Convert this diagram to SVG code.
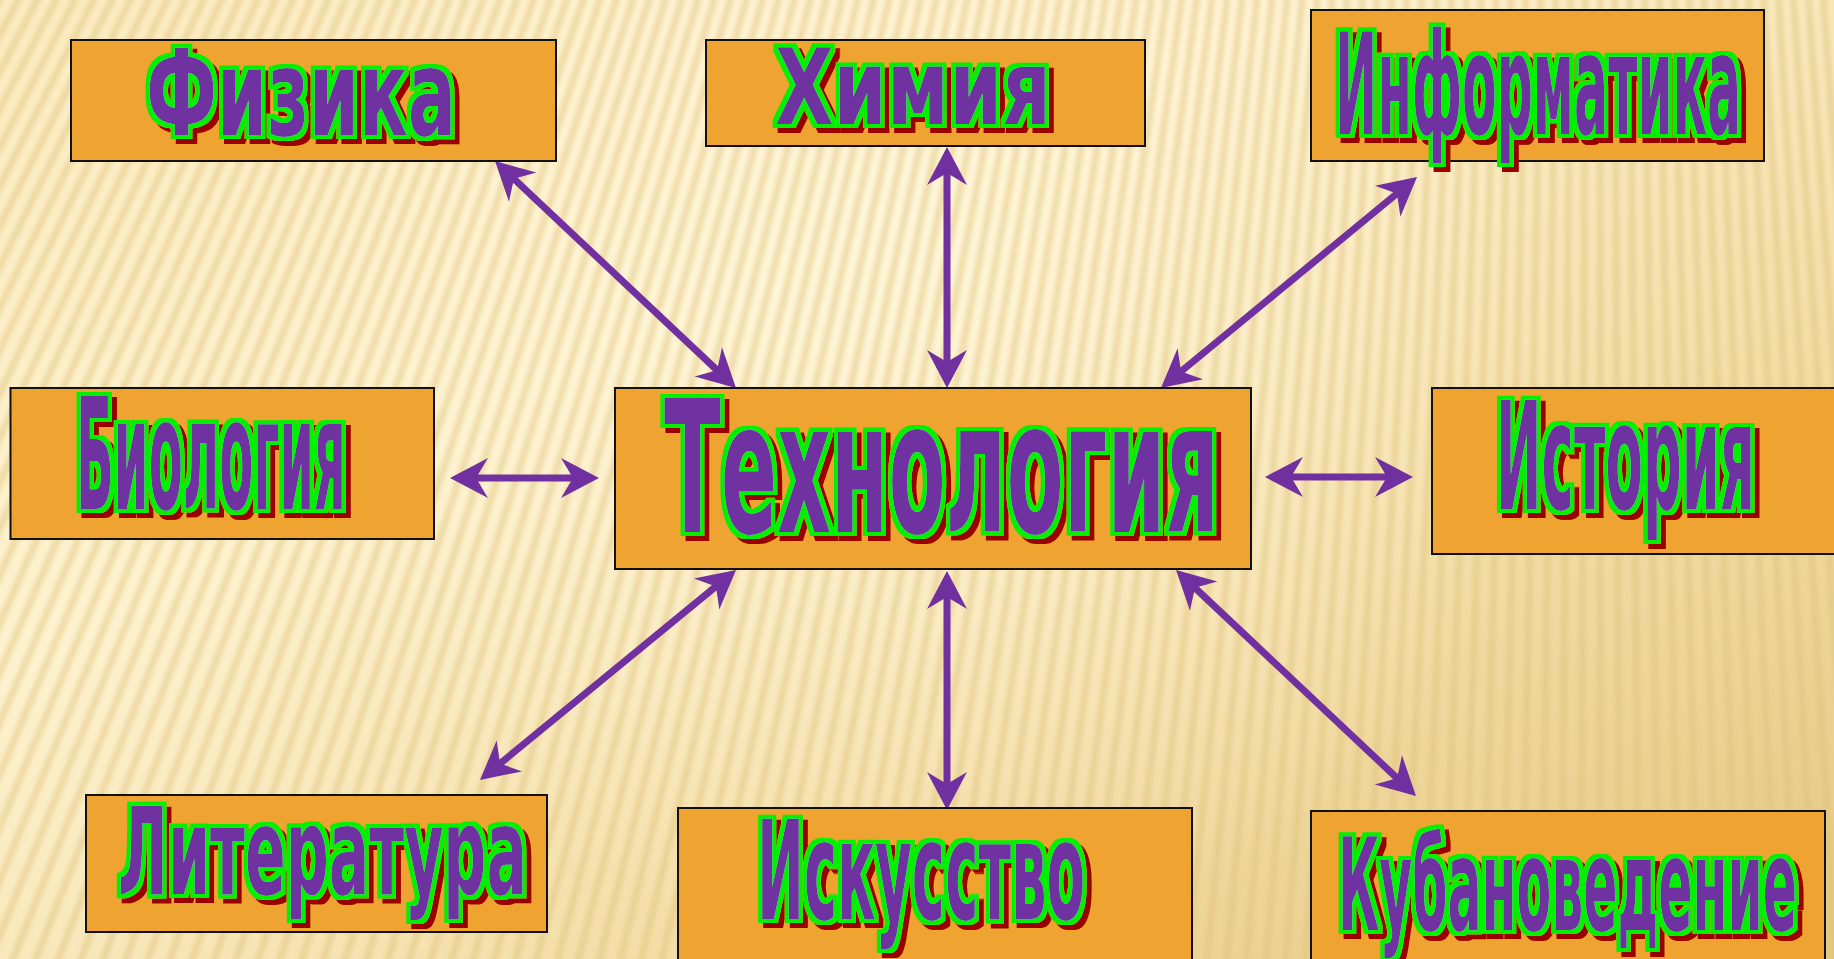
<svg xmlns="http://www.w3.org/2000/svg" width="1834" height="959" viewBox="0 0 1834 959">
<defs>
<style>
.box{fill:#EFA330;stroke:#111;stroke-width:2}
.lbl{font-family:"DejaVu Sans","Liberation Sans",sans-serif;font-weight:bold;fill:#7030A0}
.conn{stroke:#7030A0;stroke-width:7;fill:none;marker-start:url(#ah);marker-end:url(#ah)}
</style>
<marker id="ah" viewBox="-30 -22 42 44" refX="0" refY="0" markerWidth="42" markerHeight="44" markerUnits="userSpaceOnUse" orient="auto-start-reverse">
<path d="M10,0 L-28,-20 L-16,0 L-28,20 Z" fill="#7030A0"/>
</marker>
<filter id="wa" x="-6%" y="-15%" width="115%" height="135%">
<feMorphology in="SourceAlpha" operator="dilate" radius="4" result="d"/>
<feFlood flood-color="#00F000" result="g"/>
<feComposite in="g" in2="d" operator="in" result="outline"/>
<feOffset in="d" dx="5" dy="5" result="od"/>
<feFlood flood-color="#990000"/>
<feComposite in2="od" operator="in" result="shadow"/>
<feMerge><feMergeNode in="shadow"/><feMergeNode in="outline"/><feMergeNode in="SourceGraphic"/></feMerge>
</filter>
<linearGradient id="bg" x1="0" y1="0" x2="1" y2="1">
<stop offset="0" stop-color="#FBEBC0"/>
<stop offset="0.35" stop-color="#FDF2CF"/>
<stop offset="0.65" stop-color="#F4DFAA"/>
<stop offset="1" stop-color="#E4C883"/>
</linearGradient>
<radialGradient id="hl" cx="900" cy="250" r="700" gradientUnits="userSpaceOnUse">
<stop offset="0" stop-color="#FFF7DC" stop-opacity="0.8"/>
<stop offset="1" stop-color="#FFF7DC" stop-opacity="0"/>
</radialGradient>
<filter id="soft" filterUnits="userSpaceOnUse" x="0" y="0" width="1834" height="959">
<feGaussianBlur stdDeviation="2"/>
</filter>
</defs>
<g id="background">
<rect x="0" y="0" width="1834" height="959" fill="url(#bg)"/>
<rect x="0" y="0" width="1834" height="959" fill="url(#hl)"/>
<g filter="url(#soft)">
<circle cx="1600" cy="-3000" r="3635" fill="none" stroke="#DDBE78" stroke-opacity="0.45" stroke-width="1300" stroke-dasharray="7 11"/>
</g>
</g>
<g id="connectors">
<line class="conn" x1="502.3" y1="167.9" x2="728.7" y2="381.1"/>
<line class="conn" x1="947" y1="157" x2="947" y2="378"/>
<line class="conn" x1="1409.3" y1="183.4" x2="1168.7" y2="381.6"/>
<line class="conn" x1="460" y1="478" x2="589" y2="478"/>
<line class="conn" x1="1275" y1="477" x2="1403" y2="477"/>
<line class="conn" x1="487.7" y1="773.7" x2="728.3" y2="576.3"/>
<line class="conn" x1="947" y1="581" x2="947" y2="800"/>
<line class="conn" x1="1183.3" y1="576.9" x2="1408.7" y2="789.1"/>
</g>
<g id="node-fizika">
<rect class="box" x="71" y="40" width="485" height="121"/>
<g filter="url(#wa)"><text class="lbl" transform="scale(0.6 1)" x="243.3" y="135" font-size="119" textLength="516.7" lengthAdjust="spacingAndGlyphs">Физика</text></g>
</g>
<g id="node-himiya">
<rect class="box" x="706" y="40" width="439" height="106"/>
<g filter="url(#wa)"><text class="lbl" transform="scale(0.71 1)" x="1091.5" y="124" font-size="106" textLength="388.7" lengthAdjust="spacingAndGlyphs">Химия</text></g>
</g>
<g id="node-informatika">
<rect class="box" x="1311" y="10" width="453" height="151"/>
<g filter="url(#wa)"><text class="lbl" transform="scale(0.36 1)" x="3708.3" y="134" font-size="140" textLength="1127.8" lengthAdjust="spacingAndGlyphs">Информатика</text></g>
</g>
<g id="node-biologiya">
<rect class="box" x="10.5" y="388" width="423.5" height="151"/>
<g filter="url(#wa)"><text class="lbl" transform="scale(0.32 1)" x="237.5" y="509" font-size="155" textLength="843.75" lengthAdjust="spacingAndGlyphs">Биология</text></g>
</g>
<g id="node-tehnologiya">
<rect class="box" x="615" y="388" width="636" height="181"/>
<g filter="url(#wa)"><text class="lbl" transform="scale(0.45 1)" x="1475.6" y="532" font-size="183" textLength="1233.3" lengthAdjust="spacingAndGlyphs">Технология</text></g>
</g>
<g id="node-istoriya">
<rect class="box" x="1432" y="388" width="410" height="166"/>
<g filter="url(#wa)"><text class="lbl" transform="scale(0.36 1)" x="4155.6" y="509" font-size="150" textLength="719.4" lengthAdjust="spacingAndGlyphs">История</text></g>
</g>
<g id="node-literatura">
<rect class="box" x="86" y="795" width="461" height="137"/>
<g filter="url(#wa)"><text class="lbl" transform="scale(0.49 1)" x="240.8" y="894" font-size="121" textLength="834.7" lengthAdjust="spacingAndGlyphs">Литература</text></g>
</g>
<g id="node-iskusstvo">
<rect class="box" x="678" y="808" width="514" height="170"/>
<g filter="url(#wa)"><text class="lbl" transform="scale(0.39 1)" x="1941" y="919" font-size="137" textLength="841" lengthAdjust="spacingAndGlyphs">Искусство</text></g>
</g>
<g id="node-kubanovedenie">
<rect class="box" x="1311" y="811" width="514" height="170"/>
<g filter="url(#wa)"><text class="lbl" transform="scale(0.4 1)" x="3345" y="930" font-size="128" textLength="1147.5" lengthAdjust="spacingAndGlyphs">Кубановедение</text></g>
</g>
</svg>
